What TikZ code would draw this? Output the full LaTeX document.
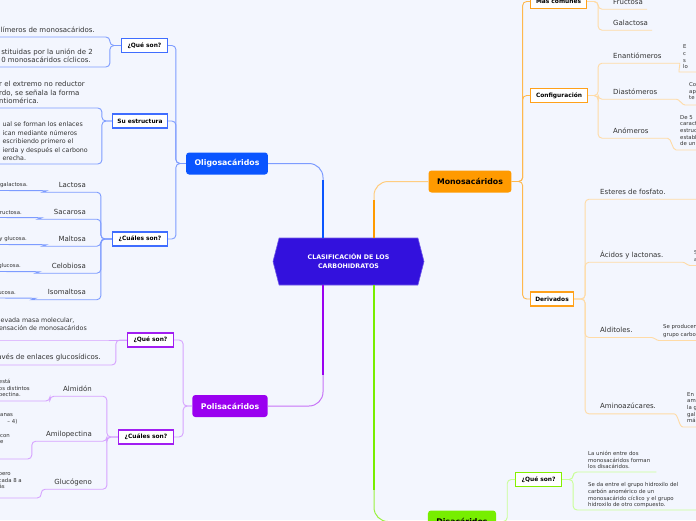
\documentclass[tikz,border=0pt]{standalone}
\usepackage{fontspec}
\setmainfont{DejaVu Sans}
\usepackage{xcolor}
\usepackage{tikz}
\usetikzlibrary{shapes.symbols}
\definecolor{fondo}{HTML}{F3F6FE}
\definecolor{central}{HTML}{3311DD}
\definecolor{oligo}{HTML}{0A55FF}
\definecolor{oligolin}{HTML}{7D9CFF}
\definecolor{oligobox}{HTML}{3F6DFF}
\definecolor{poli}{HTML}{9A00F0}
\definecolor{polilin}{HTML}{D6A3FF}
\definecolor{polibox}{HTML}{A11EF2}
\definecolor{mono}{HTML}{FF9A00}
\definecolor{monolin}{HTML}{FFB84D}
\definecolor{monohoja}{HTML}{FFDBA6}
\definecolor{monobox}{HTML}{FFA11A}
\definecolor{di}{HTML}{77EE00}
\definecolor{dilin}{HTML}{C9FF96}
\definecolor{dibox}{HTML}{84F000}
\definecolor{texto}{HTML}{333333}

\begin{document}
\begin{tikzpicture}[x=1pt, y=-1pt,
every node/.style={inner sep=0pt, text=texto},
tema/.style={rounded corners=3pt, inner xsep=8.5pt, minimum height=22pt, font=\fontsize{7.8}{9}\selectfont\bfseries},
caja/.style={draw, fill=white, line width=1.1pt, minimum height=14pt, font=\fontsize{5.9}{7}\selectfont\bfseries, text=black},
hoja/.style={inner ysep=3.5pt, text height=5.5pt, text depth=1.5pt, font=\fontsize{7}{8.5}\selectfont},
parrafo/.style={align=left, inner ysep=4pt, font=\fontsize{7}{8.7}\selectfont},
nota/.style={align=left, inner ysep=3pt, font=\fontsize{5.4}{6.6}\selectfont},
linea/.style={line width=0.9pt, rounded corners=4pt},
rama/.style={line width=1pt, rounded corners=14pt}]

\useasboundingbox (0,0) rectangle (696,520);
\clip (0,0) rectangle (696,520);
\fill[fondo] (0,0) rectangle (696,520);

\node (cen) [signal, signal to=west and east, signal pointer angle=151, fill=central, draw=central!70!white, line width=0.6pt, minimum width=151pt, minimum height=47pt, align=center, text=white, font=\fontsize{6.3}{9}\selectfont\bfseries] at (348.5,261.5) {CLASIFICACIÓN DE LOS\\CARBOHIDRATOS};

\node (oli) [tema, fill=oligo, text=white] at (227,163.5) {Oligosacáridos};
\node (pol) [tema, fill=poli, text=white] at (230,406) {Polisacáridos};
\node (mon) [tema, fill=mono, text=black] at (470,181.5) {Monosacáridos};
\node (dis) [tema, fill=di, text=black] at (462,521.5) {Disacáridos};

\draw[rama, oligolin] (oli.east) -| ([xshift=-25.5pt]cen.north);
\draw[oligo, line width=2.3pt] ([xshift=-25.5pt]cen.north) -- ++(0,-58);
\draw[rama, poli!55!white] (pol.east) -| ([xshift=-25.5pt]cen.south);
\draw[poli, line width=2.3pt] ([xshift=-25.5pt]cen.south) -- ++(0,90);
\draw[rama, mono!50!white] (mon.west) -| ([xshift=25.5pt]cen.north);
\draw[mono, line width=2.3pt] ([xshift=25.5pt]cen.north) -- ++(0,-38);
\draw[rama, di!75!white] (dis.west) -| ([xshift=25.5pt]cen.south);
\draw[di, line width=2.3pt] ([xshift=25.5pt]cen.south) -- ++(0,205);

\node (oq) [caja, draw=oligobox, anchor=east, minimum width=46pt] at (168,45.5) {¿Qué son?};
\node (oe) [caja, draw=oligobox, anchor=east, minimum width=55pt] at (168,121) {Su estructura};
\node (oc) [caja, draw=oligobox, anchor=east, minimum width=55pt] at (168,239) {¿Cuáles son?};
\draw[linea, oligolin] (oli.west) -- ++(-10,0) |- (oq.east);
\draw[linea, oligolin] (oli.west) -- ++(-10,0) |- (oe.east);
\draw[linea, oligolin] (oli.west) -- ++(-10,0) |- (oc.east);

\node (oq1) [parrafo, anchor=south east] at (95,37) {límeros de monosacáridos.};
\node (oq2) [parrafo, anchor=south east] at (93,67) {stituidas por la unión de 2\\0 monosacáridos cíclicos.};
\draw[linea, oligolin] (oq.west) -- ++(-11,0) |- (oq1.south east) -- (oq1.south west) -- ++(-20,0);
\draw[linea, oligolin] (oq.west) -- ++(-11,0) |- (oq2.south east) -- (oq2.south west) -- ++(-20,0);

\node (oe1) [parrafo, anchor=south east] at (85,108) {r el extremo no reductor\\rdo, se señala la forma\\ntiomérica.};
\node (oe2) [nota, anchor=south east, font=\fontsize{6.3}{8.5}\selectfont] at (88,164) {ual se forman los enlaces\\ican mediante números\\escribiendo primero el\\ierda y después el carbono\\erecha.};
\draw[linea, oligolin] (oe.west) -- ++(-10,0) |- (oe1.south east) -- (oe1.south west) -- ++(-20,0);
\draw[linea, oligolin] (oe.west) -- ++(-10,0) |- (oe2.south east) -- (oe2.south west) -- ++(-20,0);

\node (lac) [hoja, anchor=east] at (86,185) {Lactosa};
\node (sac) [hoja, anchor=east] at (86,212) {Sacarosa};
\node (mal) [hoja, anchor=east] at (86,239) {Maltosa};
\node (cel) [hoja, anchor=east] at (86,266) {Celobiosa};
\node (iso) [hoja, anchor=east] at (86,292.5) {Isomaltosa};
\node (lacn) [nota, anchor=south east] at (28,190.5) {galactosa.};
\node (sacn) [nota, anchor=south east] at (22,217.5) {fructosa.};
\node (maln) [nota, anchor=south east] at (27,244.5) {y glucosa.};
\node (celn) [nota, anchor=south east] at (21,271.5) {glucosa.};
\node (ison) [nota, anchor=south east] at (16,298) {ucosa.};
\draw[linea, oligolin] (oc.west) -- ++(-11,0) |- (lac.south east) -- (lac.south west) -- ++(-12,0) to[out=180,in=0] ++(-4,-1.5) -- (lacn.south west) -- ++(-10,0);
\draw[linea, oligolin] (oc.west) -- ++(-11,0) |- (sac.south east) -- (sac.south west) -- ++(-12,0) to[out=180,in=0] ++(-4,-1.5) -- (sacn.south west) -- ++(-10,0);
\draw[linea, oligolin] (oc.west) -- ++(-11,0) |- (mal.south east) -- (mal.south west) -- ++(-12,0) to[out=180,in=0] ++(-4,-1.5) -- (maln.south west) -- ++(-10,0);
\draw[linea, oligolin] (oc.west) -- ++(-11,0) |- (cel.south east) -- (cel.south west) -- ++(-12,0) to[out=180,in=0] ++(-4,-1.5) -- (celn.south west) -- ++(-10,0);
\draw[linea, oligolin] (oc.west) -- ++(-11,0) |- (iso.south east) -- (iso.south west) -- ++(-12,0) to[out=180,in=0] ++(-4,-1.5) -- (ison.south west) -- ++(-10,0);

\node (pq) [caja, draw=polibox, anchor=east, minimum width=46pt] at (174,340) {¿Qué son?};
\node (pc) [caja, draw=polibox, anchor=east, minimum width=55pt] at (174,437) {¿Cuáles son?};
\draw[linea, polilin] (pol.west) -- ++(-9,0) |- (pq.east);
\draw[linea, polilin] (pol.west) -- ++(-9,0) |- (pc.east);

\node (pq1) [nota, anchor=south east, inner ysep=9pt, font=\fontsize{6.3}{8}\selectfont] at (87,340) {elevada masa molecular,\\densación de monosacáridos};
\node (pq2) [parrafo, anchor=south east] at (101,365) {través de enlaces glucosídicos.};
\draw[linea, polilin] (pq.west) -- (pq1.south east) -- (pq1.south west) -- ++(-20,0);
\draw[linea, polilin] (pq.west) -- ++(-11,0) |- (pq2.south east) -- (pq2.south west) -- ++(-20,0);

\node (alm) [hoja, anchor=east] at (92,389) {Almidón};
\node (amp) [hoja, anchor=east] at (92,434) {Amilopectina};
\node (glu) [hoja, anchor=east] at (92,482) {Glucógeno};
\node (almn) [nota, anchor=south east] at (30,401) {está\\os distintos\\pectina.};
\node (ampn) [nota, anchor=south west, inner ysep=15pt] at (0,459) {anas\\\hphantom{(1 }– 4)\\[7pt]con\\e};
\node (glun) [nota, anchor=south east, inner ysep=9pt] at (22,498) {pero\\cada 8 a\\ás};
\draw[linea, polilin] (pc.west) -- ++(-11,0) |- (alm.south east) -- (alm.south west) -- ++(-13,0) |- (almn.south east) -- (almn.south west) -- ++(-10,0);
\draw[linea, polilin] (pc.west) -- ++(-11,0) |- (amp.south east) -- (amp.south west) -- ++(-14,0) |- (ampn.south east) -- (ampn.south west);
\draw[linea, polilin] (pc.west) -- ++(-11,0) |- (glu.south east) -- (glu.south west) -- ++(-13,0) |- (glun.south east) -- (glun.south west) -- ++(-10,0);

\node (mmc) [caja, draw=monobox, anchor=west, minimum width=56pt] at (530,1.5) {Más comunes};
\node (mcf) [caja, draw=monobox, anchor=west, minimum width=57pt] at (530,95.5) {Configuración};
\node (mdv) [caja, draw=monobox, anchor=west, minimum width=43pt] at (530,299) {Derivados};
\draw[linea, monolin] (mon.east) -- ++(11,0) |- (mmc.west);
\draw[linea, monolin] (mon.east) -- ++(11,0) |- (mcf.west);
\draw[linea, monolin] (mon.east) -- ++(11,0) |- (mdv.west);

\node (fru) [hoja, anchor=west] at (613,2) {Fructosa};
\node (gal) [hoja, anchor=west] at (613,23) {Galactosa};
\draw[linea, monohoja] (mmc.east) -- ++(11,0) |- (fru.south west) -- (fru.south east) -- ++(4,0);
\draw[linea, monohoja] (mmc.east) -- ++(11,0) |- (gal.south west) -- (gal.south east) -- ++(3,0);

\node (ena) [hoja, anchor=west] at (613,56) {Enantiómeros};
\node (dia) [hoja, anchor=west] at (613,92) {Diastómeros};
\node (ano) [hoja, anchor=west] at (613,131) {Anómeros};
\node (enan) [nota, anchor=south west] at (683,72) {E\\c\\s\\lo};
\node (dian) [nota, anchor=south west, inner ysep=5pt] at (689,105) {Co\\ap\\te};
\node (anon) [nota, anchor=south west, inner ysep=4pt] at (680,150) {De 5\\caract\\estruc\\establ\\de un};
\draw[linea, monohoja] (mcf.east) -- ++(10,0) |- (ena.south west) -- (ena.south east) -- ++(14,0) to[out=0,in=180] (enan.south west) -- ++(20,0);
\draw[linea, monohoja] (mcf.east) -- ++(10,0) |- (dia.south west) -- (dia.south east) -- ++(15,0) to[out=0,in=180] (dian.south west) -- ++(20,0);
\draw[linea, monohoja] (mcf.east) -- ++(10,0) |- (ano.south west) -- (ano.south east) -- ++(15,0) to[out=0,in=180] (anon.south west) -- ++(20,0);

\node (est) [hoja, anchor=west] at (600,192) {Esteres de fosfato.};
\node (aci) [hoja, anchor=west] at (600,255) {Ácidos y lactonas.};
\node (ald) [hoja, anchor=west] at (600,330.3) {Alditoles.};
\node (ami) [hoja, anchor=west] at (600,406.7) {Aminoazúcares.};
\node (acin) [nota, anchor=south west, inner ysep=4pt] at (694,265.5) {S\\a};
\node (aldn) [nota, anchor=south west, font=\fontsize{5.4}{7.6}\selectfont] at (663,340.5) {Se producen\\grupo carbo};
\node (amin) [nota, anchor=south west, inner ysep=4pt] at (687,427) {En\\am\\la g\\gal\\má};
\draw[linea, monohoja] (mdv.east) -- ++(11,0) |- (est.south west) -- (est.south east) -- ++(40,0);
\draw[linea, monohoja] (mdv.east) -- ++(11,0) |- (aci.south west) -- (aci.south east) -- ++(15,0) to[out=0,in=180] (acin.south west) -- ++(10,0);
\draw[linea, monohoja] (mdv.east) -- ++(11,0) |- (ald.south west) -- (ald.south east) -- ++(15,0) to[out=0,in=180] (aldn.south west) -- ++(40,0);
\draw[linea, monohoja] (mdv.east) -- ++(11,0) |- (ami.south west) -- (ami.south east) -- ++(14,0) to[out=0,in=180] (amin.south west) -- ++(20,0);

\node (dq) [caja, draw=dibox, anchor=west, minimum width=46pt] at (515,479.5) {¿Qué son?};
\draw[linea, dilin] (dis.east) -- ++(11,0) |- (dq.west);
\node (dq1) [nota, anchor=south west] at (588,472) {La unión entre dos\\monosacáridos forman\\los disacáridos.};
\node (dq2) [nota, anchor=south west, inner ysep=2pt] at (588,510) {Se da entre el grupo hidroxilo del\\carbón anomérico de un\\monosacárido cíclico y el grupo\\hidroxilo de otro compuesto.};
\draw[linea, dilin] (dq.east) -- ++(11,0) |- (dq1.south west) -- (dq1.south east) -- ++(6,0);
\draw[linea, dilin] (dq.east) -- ++(11,0) |- (dq2.south west) -- (dq2.south east) -- ++(40,0);

\end{tikzpicture}
\end{document}
